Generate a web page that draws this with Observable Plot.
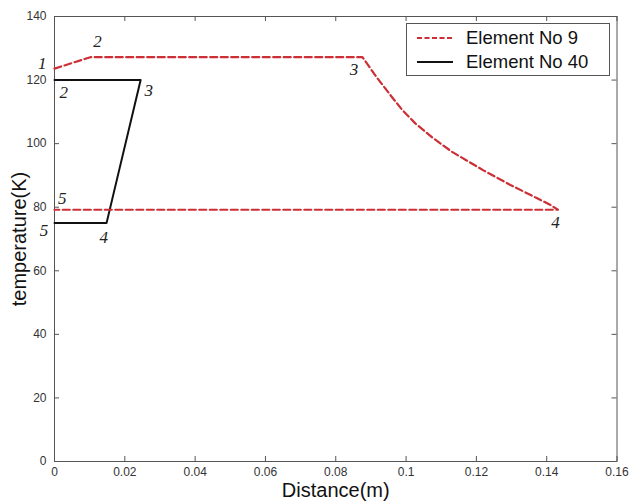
<!DOCTYPE html>
<html>
<head>
<meta charset="utf-8">
<script src="https://cdn.jsdelivr.net/npm/d3@7"></script>
<script src="https://cdn.jsdelivr.net/npm/@observablehq/plot@0.6"></script>
<style>
  html, body { margin: 0; padding: 0; background: #fff; }
  #wrap { position: relative; width: 630px; height: 503px; font-family: "Liberation Sans", Arial, sans-serif; }
  #legend { position: absolute; left: 406px; top: 23px; width: 204px; height: 53px; border: 1px solid #555; background: #fff; box-sizing: border-box; }
  #legend .row { position: absolute; left: 0; height: 22px; display: flex; align-items: center; font-size: 18.5px; color: #111; white-space: nowrap; }
  #legend svg { margin-left: 10px; margin-right: 13px; }
</style>
</head>
<body>
<div id="wrap"></div>
<script>
// ---- data ----
const series9Name = "Element No 9";
const series40Name = "Element No 40";
const elem9X = [0, 0.0102, 0.0876, 0.0913, 0.0951, 0.0989, 0.1027, 0.1075, 0.1131, 0.1220, 0.1297, 0.1373, 0.1411, 0.1432, 0];
const elem9Y = [123.6, 127.2, 127.2, 121.4, 115.9, 110.6, 106.3, 101.9, 97.4, 91.6, 87.0, 82.8, 80.7, 79.2, 79.2];
const elem40X = [0, 0.0245, 0.0148, 0];
const elem40Y = [120, 120, 75, 75];
const xTicks = [0, 0.02, 0.04, 0.06, 0.08, 0.1, 0.12, 0.14, 0.16];
const xTickLabels = ["0", "0.02", "0.04", "0.06", "0.08", "0.1", "0.12", "0.14", "0.16"];
const yTicks = [0, 20, 40, 60, 80, 100, 120, 140];
const label9Text = ["1", "2", "3", "4", "5"];
const label9X = [-0.0035, 0.0122, 0.0852, 0.1425, 0.0022];
const label9Y = [125.1, 132.2, 123.2, 75.3, 82.6];
const label40Text = ["2", "3", "4", "5"];
const label40X = [0.0026, 0.0268, 0.0140, -0.0030];
const label40Y = [116.2, 116.7, 70.6, 72.7];

const red = "#cc2f35";
const W = 630, H = 503;
const mL = 54, mR = 13.5, mT = 16, mB = 42;
const plotW = W - mL - mR, plotH = H - mT - mB;

const s9 = elem9X.map((x, i) => ({x, y: elem9Y[i]}));
const s40 = elem40X.map((x, i) => ({x, y: elem40Y[i]}));
const lab9 = label9Text.map((t, i) => ({t, x: label9X[i], y: label9Y[i]}));
const lab40 = label40Text.map((t, i) => ({t, x: label40X[i], y: label40Y[i]}));

const chart = Plot.plot({
  width: W, height: H,
  marginLeft: mL, marginRight: mR, marginTop: mT, marginBottom: mB,
  style: {fontFamily: "'Liberation Sans', Arial, sans-serif", background: "#fff", overflow: "visible"},
  x: {domain: [0, 0.16]},
  y: {domain: [0, 140]},
  marks: [
    Plot.frame({stroke: "#555", strokeWidth: 1}),
    Plot.tickX(xTicks, {x: d => d, insetTop: plotH - 5, stroke: "#555"}),
    Plot.tickX(xTicks, {x: d => d, insetBottom: plotH - 5, stroke: "#555"}),
    Plot.tickY(yTicks, {y: d => d, insetRight: plotW - 5, stroke: "#555"}),
    Plot.tickY(yTicks, {y: d => d, insetLeft: plotW - 5, stroke: "#555"}),
    Plot.axisX({ticks: xTicks, tickSize: 0, tickPadding: 6, tickFormat: (d, i) => xTickLabels[i], fontSize: 12, fill: "#333", label: null}),
    Plot.axisY({ticks: yTicks, tickSize: 0, tickPadding: 8, tickFormat: d => String(d), fontSize: 12, fill: "#333", label: null}),
    Plot.text(["Distance(m)"], {frameAnchor: "bottom", dy: 29, textAnchor: "middle", lineAnchor: "middle", fontSize: 20, fill: "#111"}),
    Plot.text(["temperature(K)"], {frameAnchor: "left", dx: -35, textAnchor: "middle", lineAnchor: "middle", rotate: -90, fontSize: 20, fill: "#111"}),
    Plot.line(s40, {x: "x", y: "y", stroke: "#111", strokeWidth: 2}),
    Plot.line(s9, {x: "x", y: "y", stroke: red, strokeWidth: 2.2, strokeDasharray: "7,3.5"}),
    Plot.text(lab9, {x: "x", y: "y", text: "t", fontSize: 17, fontStyle: "italic", fontFamily: "'Liberation Serif', 'DejaVu Serif', serif", fill: "#222"}),
    Plot.text(lab40, {x: "x", y: "y", text: "t", fontSize: 17, fontStyle: "italic", fontFamily: "'Liberation Serif', 'DejaVu Serif', serif", fill: "#222"})
  ]
});

const wrap = document.getElementById("wrap");
wrap.appendChild(chart);

const legend = document.createElement("div");
legend.id = "legend";
legend.innerHTML =
  `<div class="row" style="top:3px"><svg width="36" height="6"><line x1="0" y1="3" x2="36" y2="3" stroke="${red}" stroke-width="2" stroke-dasharray="5,2.5"/></svg>${series9Name}</div>` +
  `<div class="row" style="top:27px"><svg width="36" height="6"><line x1="0" y1="3" x2="36" y2="3" stroke="#111" stroke-width="2"/></svg>${series40Name}</div>`;
wrap.appendChild(legend);
</script>
</body>
</html>
